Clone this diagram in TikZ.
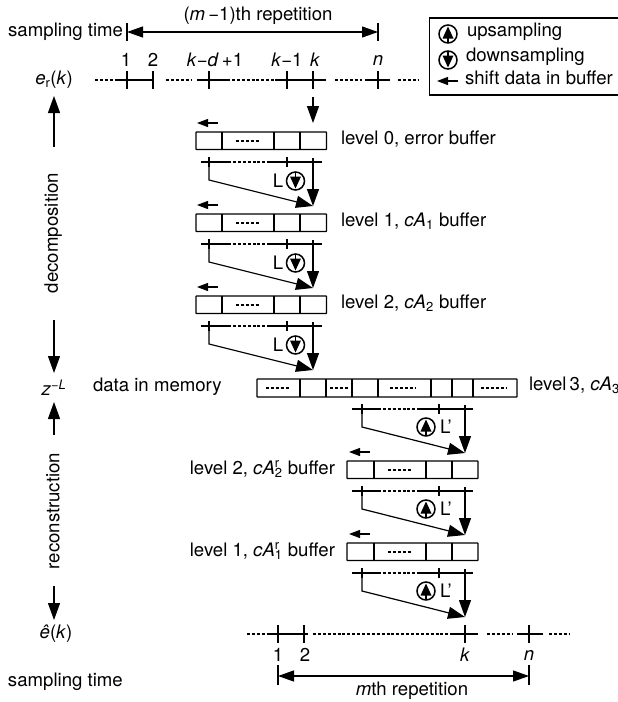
\documentclass[tikz,border=0pt]{standalone}
\usepackage{fontspec}
\setmainfont{TeX Gyre Heros}
\usetikzlibrary{arrows.meta}
\tikzset{
  every node/.style={font=\fontsize{18.6}{21}\selectfont, inner sep=0pt, outer sep=0pt},
  lin/.style={line width=1.2pt, line cap=butt},
  dots/.style={line width=1.2pt, dash pattern=on 3pt off 1.9pt},
  bigarrow/.style={lin, -{Triangle[length=17pt,width=12pt]}},
  shiftarrow/.style={lin, -{Triangle[length=11pt,width=8pt]}},
  dimarrow/.style={lin, {Triangle[length=16pt,width=11pt]}-{Triangle[length=16pt,width=11pt]}},
  cellbox/.style={draw, line width=1.2pt, rounded corners=0.5pt, anchor=north west},
  rot/.style={rotate=90},
  lbl/.style={anchor=west, text height=13pt, text depth=5pt},
  lblr/.style={anchor=east, text height=13pt, text depth=5pt},
}
% \samplesym{name}{x}{y}{+1 down / -1 up}
\newcommand{\samplesym}[4]{%
  \node[draw, circle, line width=1.5pt, minimum size=18pt] (#1) at (#2,#3) {};
  \fill (#2-5.5,#3-4.5*#4) -- (#2+5.5,#3-4.5*#4) -- (#2,#3+7.5*#4) -- cycle;
  \draw[line width=1.4pt] (#2,#3-8*#4) -- (#2,#3);
}
% \levelbuf{name}{x0}{x1}{x2}{x3}{x4}{y}
\newcommand{\levelbuf}[7]{%
  \node[cellbox, minimum width=#5pt-#2pt, minimum height=17.5pt] (#1) at (#2,#7) {};
  \draw[lin] (#3,#7) -- (#3,#7+17.5) (#4,#7) -- (#4,#7+17.5) (#6,#7) -- (#6,#7+17.5);
  \draw[dots] ({(#3+#4)/2-12},#7+9) -- ({(#3+#4)/2+12},#7+9);
}
\newcommand{\cArsub}[1]{\textit{cA}\rlap{\textsuperscript{r}}\textsubscript{#1}}
\begin{document}
\begin{tikzpicture}[x=1pt,y=-1pt]
\useasboundingbox (0,0) rectangle (618,702);
\clip (0,0) rectangle (618,702);

% --- top repetition
\coordinate (tl) at (127,32); \coordinate (tr) at (378,32);
\draw[lin] (127,23) -- (127,41) (378,23) -- (378,41);
\draw[dimarrow] (tl) -- (tr);
\node (toplabel) at (258,16) {(\textit{m}\,−1)th repetition};
\node[lblr] (st1) at (123,32) {sampling time};

% --- e_r(k) timeline
\node (er) at (54,80) {\textit{e}\textsubscript{r}(\textit{k})};
\node (t1) at (126,60) {1};
\node (t2) at (153,60) {2};
\node (t3) at (215,60) {\textit{k}−\textit{d}\,+1};
\node (t4) at (287,60) {\textit{k}−1};
\node (t5) at (315,60) {\textit{k}};
\node (t6) at (378,60) {\textit{n}};
\draw[dots] (95,80) -- (118,80) (166,80) -- (192,80) (227,80) -- (275,80) (335,80) -- (362,80) (398,80) -- (418,80);
\draw[lin] (118,80) -- (153,80) (197,80) -- (227,80) (275,80) -- (326,80) (365,80) -- (390,80);
\draw[lin] (127,71) -- (127,89) (153,71) -- (153,89) (209,71) -- (209,89) (287,71) -- (287,89) (313,71) -- (313,89) (378,71) -- (378,89);

% --- legend
\node[draw, line width=1.3pt, anchor=north west, minimum width=198pt, minimum height=77pt] (legend) at (429.5,18) {};
\samplesym{lu}{448}{34}{-1}
\node[lbl] (lut) at (467,32) {upsampling};
\samplesym{ld}{448}{60}{1}
\node[lbl] (ldt) at (466,57) {downsampling};
\coordinate (lsa) at (458,81); \coordinate (lsb) at (437,81);
\draw[shiftarrow] (lsa) -- (lsb);
\node[lbl] (lst) at (465,80) {shift data in buffer};

% --- left side
\coordinate (ua1) at (54,147); \coordinate (ua2) at (54,96);
\draw[bigarrow] (ua1) -- (ua2);
\node[rot] (decomp) at (53,233) {decomposition};
\coordinate (da1) at (54,320); \coordinate (da2) at (54,373);
\draw[bigarrow] (da1) -- (da2);
\node (zl) at (54,388) {\textit{z}\textsuperscript{−\textit{L}}};
\node[lbl] (mem) at (93,387) {data in memory};
\coordinate (ub1) at (54,435); \coordinate (ub2) at (54,402);
\draw[bigarrow] (ub1) -- (ub2);
\node[rot] (recon) at (53,511) {reconstruction};
\coordinate (db1) at (54,586); \coordinate (db2) at (54,620);
\draw[bigarrow] (db1) -- (db2);
\node (ehat) at (56,634) {\textit{ê}(\textit{k})};
\node[anchor=west] (st2) at (8,682) {sampling time};

% --- input arrow
\coordinate (ia1) at (313,97); \coordinate (ia2) at (313,123);
\draw[bigarrow] (ia1) -- (ia2);

% --- decomposition levels
\foreach \n/\y in {0/132,1/214,2/296}{
  \levelbuf{buf\n}{196}{222}{274}{326.5}{300}{\y}
  \coordinate (sa\n) at (218,\y-9); \coordinate (sb\n) at (197,\y-9);
  \draw[shiftarrow] (sa\n) -- (sb\n);
}
\foreach \n/\y in {0/162,1/244,2/326}{
  \draw[lin] (201,\y) -- (228,\y) (270,\y) -- (322,\y);
  \draw[dots] (228,\y) -- (270,\y);
  \draw[lin] (209,\y-5) -- (209,\y+5) (287,\y-5) -- (287,\y+5);
  \coordinate (ca\n) at (209,\y+18); \coordinate (v\n) at (313,\y-4); \coordinate (tip\n) at (313,\y+44);
  \draw[lin, -{Triangle[length=17pt,width=12pt]}] (209,\y-4) -- (ca\n) -- (tip\n);
  \draw[bigarrow] (v\n) -- (tip\n);
  \node (Ld\n) at (278,\y+19) {L};
  \samplesym{cd\n}{295.5}{\y+19}{1}
}
\node[lbl] (l0) at (341,140) {level 0, error buffer};
\node[lbl] (l1) at (341,222) {level 1, \textit{cA}\textsubscript{1} buffer};
\node[lbl] (l2) at (341,304) {level 2, \textit{cA}\textsubscript{2} buffer};

% --- level 3 memory
\node[cellbox, minimum width=260pt, minimum height=18pt] (buf3) at (257,379) {};
\draw[lin] (300,379) -- (300,397) (326,379) -- (326,397) (352,379) -- (352,397) (378,379) -- (378,397) (431,379) -- (431,397) (452,379) -- (452,397) (473,379) -- (473,397);
\draw[dots] (266,388) -- (290,388) (330,388) -- (349,388) (390,388) -- (416,388) (481,388) -- (507,388);
\node[lbl] (l3) at (529,386) {level\,3, \textit{cA}\textsubscript{3}};

% --- reconstruction levels
\foreach \n/\y in {a/461,b/543}{
  \levelbuf{rbuf\n}{347}{374}{426}{478}{452}{\y}
  \coordinate (rsa\n) at (370,\y-9); \coordinate (rsb\n) at (349,\y-9);
  \draw[shiftarrow] (rsa\n) -- (rsb\n);
}
\foreach \n/\y in {a/409,b/491,c/573}{
  \draw[lin] (352,\y) -- (378,\y) (420,\y) -- (473,\y);
  \draw[dots] (378,\y) -- (420,\y);
  \draw[lin] (362,\y-5) -- (362,\y+5) (439,\y-5) -- (439,\y+5);
  \coordinate (rc\n) at (362,\y+18); \coordinate (rv\n) at (465,\y-4); \coordinate (rt\n) at (465,\y+44);
  \draw[lin, -{Triangle[length=17pt,width=12pt]}] (362,\y-4) -- (rc\n) -- (rt\n);
  \draw[bigarrow] (rv\n) -- (rt\n);
  \samplesym{ru\n}{426}{\y+18}{-1}
  \node (Lu\n) at (446,\y+18) {L'};
}
\node[lblr] (r2) at (335,470) {level 2, \cArsub{2} buffer};
\node[lblr] (r1) at (335,552) {level 1, \cArsub{1} buffer};

% --- bottom timeline
\draw[dots] (247,634) -- (270,634) (313,634) -- (452,634) (487,634) -- (513,634) (549,634) -- (570,634);
\draw[lin] (270,634) -- (308,634) (452,634) -- (478,634) (517,634) -- (543,634);
\draw[lin] (278,625) -- (278,643) (304,625) -- (304,643) (465,625) -- (465,643) (529,625) -- (529,643);
\node (b1) at (278,655) {1};
\node (b2) at (305,655) {2};
\node (b3) at (465,655) {\textit{k}};
\node (b4) at (529,655) {\textit{n}};
\coordinate (bl) at (278,676); \coordinate (br) at (529,676);
\draw[lin] (278,665) -- (278,685) (529,665) -- (529,685);
\draw[dimarrow] (bl) -- (br);
\node (botlabel) at (412,691) {\textit{m}th repetition};
\end{tikzpicture}
\end{document}
